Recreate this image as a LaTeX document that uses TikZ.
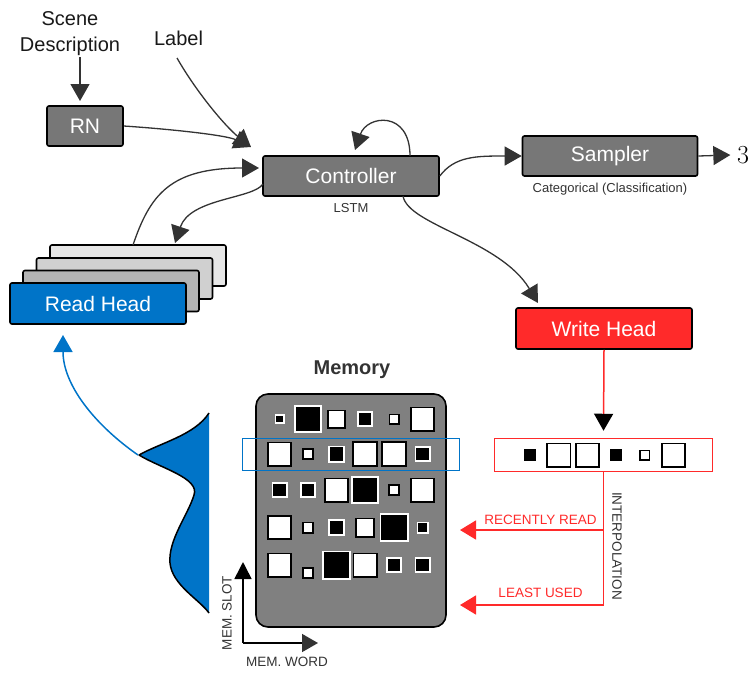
\documentclass[tikz,border=0pt]{standalone}
\usepackage{fontspec}
\setsansfont{Liberation Sans}
\renewcommand{\familydefault}{\sfdefault}
\usetikzlibrary{arrows.meta}
\definecolor{boxgray}{RGB}{119,119,119}
\definecolor{memgray}{RGB}{128,128,128}
\definecolor{rhblue}{RGB}{0,116,200}
\definecolor{whred}{RGB}{255,42,42}
\definecolor{ink}{RGB}{51,51,51}
\definecolor{stackA}{RGB}{230,230,230}
\definecolor{stackB}{RGB}{208,208,208}
\definecolor{stackC}{RGB}{180,180,180}
\begin{document}
\begin{tikzpicture}[x=1pt,y=-1pt,
  box/.style={draw=black,line width=1.6pt,rounded corners=2pt,minimum width=176pt,minimum height=40pt,inner sep=0pt,text=white,font=\fontsize{21}{24}\selectfont},
  conn/.style={draw=ink,line width=1.3pt,-{Triangle[length=17pt,width=19pt]}},
  redarr/.style={draw=whred,line width=1.5pt,-{Triangle[length=16pt,width=19pt]}},
  bluearr/.style={draw=rhblue,line width=1.5pt,-{Triangle[length=17pt,width=19pt]}},
  axarr/.style={draw=black,line width=1.6pt,-{Triangle[length=17pt,width=17pt]}},
  biglabel/.style={inner sep=0pt,text=black!90,font=\fontsize{20}{26}\selectfont},
  smalllabel/.style={inner sep=0pt,text=ink,font=\fontsize{13.5}{16}\selectfont},
  wsq/.style={fill=white,draw=black,line width=1.6pt,inner sep=0pt,minimum size=#1pt-1.6pt},
  bsq/.style={fill=black,draw=white,line width=1.6pt,inner sep=0pt,minimum size=#1pt-1.6pt}
]
\useasboundingbox (0,0) rectangle (749,673);

% top labels
\node[biglabel,align=center] (sd) at (70,34) {Scene\\Description};
\node[biglabel,anchor=base] (lbl) at (178.5,45) {Label};
\coordinate (sdout) at (80,57);
\coordinate (rnin) at (80,101);
\coordinate (lblout) at (177,58);

% main boxes
\node[box,fill=boxgray,minimum width=76pt] (rn) at (85,126) {RN};
\node[box,fill=boxgray] (ctrl) at (351,176) {Controller};
\node[smalllabel,font=\fontsize{13}{16}\selectfont] (lstm) at (351,208) {LSTM};
\node[box,fill=boxgray,minimum width=175pt] (smp) at (610,156) {Sampler};
\node[smalllabel,font=\fontsize{13}{16}\selectfont] (cat) at (610,189) {Categorical (Classification)};
\node[inner sep=0pt,font=\rmfamily\fontsize{26}{30}\selectfont] (three) at (743,155) {3};
\node[box,fill=whred,minimum height=41pt] (wh) at (604,328.5) {Write Head};

% read head stack
\node[box,fill=stackA,minimum height=41pt] (rh4) at (138,265.5) {};
\node[box,fill=stackB,minimum height=41pt] (rh3) at (124.5,278.5) {};
\node[box,fill=stackC,minimum height=41pt] (rh2) at (111,291) {};
\node[box,fill=rhblue,minimum height=41pt] (rh) at (98,303.5) {Read Head};

% connector coordinates
\coordinate (cin1) at (251,147);
\coordinate (cin2) at (259,168);
\coordinate (cout2) at (263,184);
\coordinate (rhin) at (175,243);
\coordinate (rhout) at (133,245);
\coordinate (loopout) at (410,156);
\coordinate (loopin) at (355,150);
\coordinate (wctrl) at (403,196);
\coordinate (whin) at (538,303);

% connectors
\draw[conn] (sdout) -- (rnin);
\draw[conn] (rn.east) .. controls +(45,3) and +(-25,-12) .. (cin1);
\draw[conn] (lblout) .. controls +(20,35) and +(-25,-20) .. (cin1);
\draw[conn] (rhout) .. controls +(17,-50) and +(-89,0) .. (cin2);
\draw[conn] (cout2) .. controls +(-10,15) and +(15,-45) .. (rhin);
\draw[conn] (loopout) .. controls +(0,-46) and +(12,-35) .. (loopin);
\draw[conn] (ctrl.east) .. controls +(15,-20) and +(-45,0) .. (smp.west);
\draw[conn] (smp.east) -- ([xshift=-6.5pt]three.west);
\draw[conn] (wctrl) .. controls +(5,29) and +(-38,-63) .. (whin);

% memory
\node[font=\bfseries\fontsize{20}{24}\selectfont,text=ink,inner sep=0pt] (memlbl) at (352,370) {Memory};
\node[draw=black,fill=memgray,line width=1.6pt,rounded corners=12pt,minimum width=190pt,minimum height=233pt,inner sep=0pt] (mem) at (351,510.5) {};

% row 1
\node[bsq=10] (m11) at (279.5,419) {};
\node[bsq=28] (m12) at (308,419) {};
\node[wsq=19] (m13) at (336.5,419) {};
\node[bsq=16] (m14) at (365,419) {};
\node[wsq=11] (m15) at (394,419) {};
\node[wsq=25] (m16) at (422.5,419) {};
% row 2
\node[wsq=25] (m21) at (279.5,454) {};
\node[wsq=12] (m22) at (308,454) {};
\node[bsq=17] (m23) at (336.5,454) {};
\node[wsq=26] (m24) at (365,454) {};
\node[wsq=26] (m25) at (394,454) {};
\node[bsq=16] (m26) at (422.5,454) {};
% row 3
\node[bsq=16] (m31) at (279.5,490) {};
\node[bsq=16] (m32) at (308,490) {};
\node[wsq=25] (m33) at (336.5,490) {};
\node[bsq=28] (m34) at (365,490) {};
\node[wsq=12] (m35) at (394,490) {};
\node[wsq=25] (m36) at (422.5,490) {};
% row 4
\node[wsq=25] (m41) at (279.5,527.5) {};
\node[wsq=12] (m42) at (308,527.5) {};
\node[bsq=17] (m43) at (336.5,527.5) {};
\node[wsq=20] (m44) at (365,527.5) {};
\node[bsq=29] (m45) at (394,527.5) {};
\node[bsq=12] (m46) at (422.5,527.5) {};
% row 5
\node[wsq=25] (m51) at (279.5,565) {};
\node[wsq=12] (m52) at (308,573) {};
\node[bsq=29] (m53) at (336.5,565) {};
\node[wsq=25] (m54) at (365,565) {};
\node[bsq=16] (m55) at (394,565) {};
\node[bsq=16] (m56) at (422.5,565) {};

% highlighted row
\node[draw=rhblue,line width=1.5pt,minimum width=217pt,minimum height=32pt,inner sep=0pt] (hl) at (351,454.5) {};

% axes
\coordinate (origin) at (243,643);
\coordinate (slottip) at (243,562);
\coordinate (wordtip) at (318,643);
\draw[axarr] (origin) -- (slottip);
\draw[axarr,-{Triangle[length=16pt,width=18pt,color=ink]}] (origin) -- (wordtip);
\node[smalllabel,rotate=90] (slot) at (227,613) {MEM. SLOT};
\node[smalllabel] (word) at (287,662) {MEM. WORD};

% distribution
\coordinate (peak) at (138,455);
\coordinate (rhup) at (63,335);
\fill[rhblue] (209,413) .. controls (195,435) and (160,443) .. (139,455) .. controls (160,468) and (200,478) .. (194,495) .. controls (188,515) and (168,540) .. (170,563) .. controls (172,585) and (200,600) .. (209,613) -- cycle;
\draw[black,line width=1.5pt,line join=round] (209,413) .. controls (195,435) and (160,443) .. (139,455) .. controls (160,468) and (200,478) .. (194,495) .. controls (188,515) and (168,540) .. (170,563) .. controls (172,585) and (200,600) .. (209,613);
\draw[bluearr] (peak) .. controls +(-43,-30) and +(0,50) .. (rhup);

% write vector
\node[draw=whred,fill=white,line width=1.5pt,minimum width=218pt,minimum height=33pt,inner sep=0pt] (wvec) at (603.5,455) {};
\node[bsq=12,draw=none,minimum size=12pt] (w1) at (530,455) {};
\node[wsq=25] (w2) at (558.7,455) {};
\node[wsq=25] (w3) at (587.4,455) {};
\node[bsq=12,draw=none,minimum size=12pt] (w4) at (616,455) {};
\node[wsq=11] (w5) at (644.8,455) {};
\node[wsq=25] (w6) at (673.5,455) {};

\draw[draw=whred,line width=1.5pt,-{Triangle[length=17pt,width=19pt,color=black]}] (wh.south) -- ([yshift=7pt]wvec.north);

% interpolation arrows
\coordinate (rr) at (460,530);
\coordinate (lu) at (460,605);
\draw[redarr] (wvec.south) |- (lu);
\draw[redarr] (wvec.south |- rr) -- (rr);
\node[smalllabel,text=whred] (rrl) at (540.5,520) {RECENTLY READ};
\node[smalllabel,text=whred] (lul) at (540.5,593) {LEAST USED};
\node[smalllabel,rotate=-90] (interp) at (617,546) {INTERPOLATION};

\end{tikzpicture}
\end{document}
